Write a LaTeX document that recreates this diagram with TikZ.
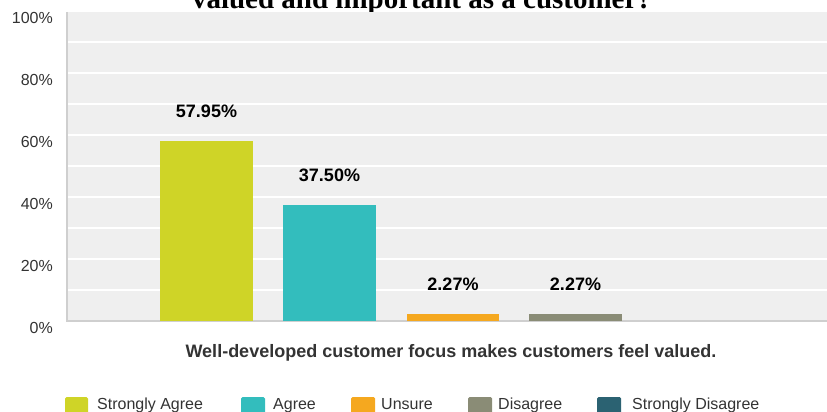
\documentclass[tikz,border=0pt]{standalone}
\usepackage{fontspec}
\setmainfont{Liberation Sans}
\newfontfamily\titlefont{Liberation Serif}
\definecolor{plotbg}{HTML}{EFEFEF}
\definecolor{axisgray}{HTML}{CFCFCF}
\definecolor{cSA}{HTML}{CFD427}
\definecolor{cA}{HTML}{33BDBD}
\definecolor{cU}{HTML}{F5A81F}
\definecolor{cD}{HTML}{8A8C76}
\definecolor{cSD}{HTML}{2B6272}
\definecolor{ticktext}{HTML}{333333}
\begin{document}
\begin{tikzpicture}[x={(1pt,0)},y={(0,-1pt)},
  ylab/.style={anchor=base east,inner sep=0pt,font=\fontsize{16}{16}\selectfont,text=ticktext},
  vlab/.style={anchor=base,inner sep=0pt,font=\fontsize{18}{18}\selectfont\bfseries,text=black},
  legtext/.style={anchor=base west,inner sep=0pt,font=\fontsize{16}{16}\selectfont,text=ticktext},
  legbox/.style={rounded corners=1.5pt},
  grid/.style={white,line width=1.5pt}]
\useasboundingbox (0,0) rectangle (827,412);
\clip (0,0) rectangle (827,412);
% title (cut at top)
\node[anchor=base,inner sep=0pt,font=\titlefont\fontsize{29}{29}\selectfont\bfseries] (title) at (422,9) {valued and important as a customer?};
% plot area
\fill[plotbg] (67,12) rectangle (827,321);
\foreach \k in {1,...,9} {
  \draw[grid] (68,{321-31*\k}) -- (827,{321-31*\k});
}
\draw[axisgray,line width=1.5pt] (67,12) -- (67,321) -- (827,321);
% y labels
\foreach \v [count=\i from 0] in {0,20,40,60,80,100} {
  \node[ylab] (y\v) at (53,{321-62*\i+12.5}) {\v\%};
}
% bars
\fill[cSA] (160,321) rectangle (253,{321-3.1*57.95});
\fill[cA]  (283,321) rectangle (376,{321-3.1*37.5});
\fill[cU]  (407,321) rectangle (499,{321-3.1*2.27});
\fill[cD]  (529,321) rectangle (622,{321-3.1*2.27});
% value labels
\node[vlab] (v1) at (206.5,{321-3.1*57.95-23.5}) {57.95\%};
\node[vlab] (v2) at (329.5,{321-3.1*37.5-23.5}) {37.50\%};
\node[vlab] (v3) at (453,{321-3.1*2.27-23.5}) {2.27\%};
\node[vlab] (v4) at (575.5,{321-3.1*2.27-23.5}) {2.27\%};
% x label
\node[anchor=base,inner sep=0pt,font=\fontsize{18}{18}\selectfont\bfseries,text=ticktext] (xlab) at (451,357) {Well-developed customer focus makes customers feel valued.};
% legend
\fill[cSA,legbox] (65,397) rectangle (88,420);
\node[legtext] (l1) at (97,409) {Strongly Agree};
\fill[cA,legbox] (241,397) rectangle (265,420);
\node[legtext] (l2) at (273,409) {Agree};
\fill[cU,legbox] (351,397) rectangle (375,420);
\node[legtext] (l3) at (381,409) {Unsure};
\fill[cD,legbox] (468,397) rectangle (492,420);
\node[legtext] (l4) at (498,409) {Disagree};
\fill[cSD,legbox] (597,397) rectangle (621,420);
\node[legtext] (l5) at (632,409) {Strongly Disagree};
\end{tikzpicture}
\end{document}
